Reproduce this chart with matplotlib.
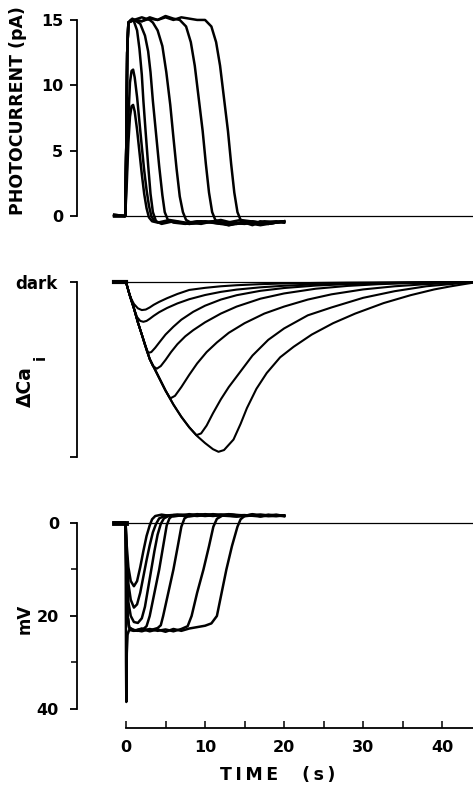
import matplotlib
matplotlib.use("Agg")
import matplotlib.pyplot as plt
from matplotlib.ticker import FixedLocator

plt.rcParams['font.family'] = ['DejaVu Sans']
plt.rcParams['font.weight'] = 'bold'

# ---------------- photocurrent (pA) ----------------
pc_t = [
    [-1.5, -0.1, 0.1, 0.3, 0.5, 0.7, 0.9, 1.1, 1.4, 1.7, 2.0, 2.3, 2.6, 2.9, 3.3, 4.0, 5.5, 7.5, 9.5, 12, 14.5, 17, 20],
    [-1.5, -0.1, 0.1, 0.3, 0.5, 0.7, 0.9, 1.1, 1.4, 1.7, 2.0, 2.3, 2.6, 2.9, 3.2, 3.6, 4.3, 6, 8, 10, 12.5, 15, 17.5, 20],
    [-1.5, -0.1, 0.05, 0.15, 0.3, 0.6, 1.0, 1.4, 1.7, 2.0, 2.2, 2.5, 2.8, 3.1, 3.4, 3.8, 4.5, 6, 8, 10, 12, 14, 16, 18, 20],
    [-1.5, -0.1, 0.05, 0.15, 0.3, 0.8, 1.3, 1.8, 2.4, 2.8, 3.1, 3.4, 3.8, 4.2, 4.6, 4.9, 5.3, 6, 7.5, 9, 11, 13, 15, 17, 19, 20],
    [-1.5, -0.1, 0.05, 0.15, 0.3, 1, 2, 3, 3.4, 4.0, 4.6, 5.1, 5.6, 6.0, 6.4, 6.8, 7.2, 7.6, 8.2, 9.5, 11, 13, 15, 17, 19, 20],
    [-1.5, -0.1, 0.05, 0.15, 0.3, 1, 2, 3, 4, 5, 6, 6.8, 7.6, 8.2, 8.7, 9.2, 9.7, 10.1, 10.5, 10.9, 11.3, 11.9, 13, 15, 17, 19, 20],
    [-1.5, -0.1, 0.05, 0.15, 0.3, 1, 2, 3, 4, 5, 6, 7, 8, 9, 10.0, 10.8, 11.4, 11.9, 12.4, 12.9, 13.3, 13.7, 14.1, 14.5, 15, 16, 17, 18, 19, 20],
]
pc_i = [
    [0.1, 0, 2.5, 5.6, 7.6, 8.4, 8.5, 8.0, 6.6, 4.9, 3.2, 1.7, 0.6, -0.1, -0.4, -0.5, -0.3, -0.5, -0.4, -0.6, -0.3, -0.5, -0.4],
    [0, 0, 3.5, 7.5, 10.2, 11.1, 11.2, 10.6, 9.1, 7.2, 5.3, 3.5, 2.0, 0.8, 0.0, -0.4, -0.5, -0.4, -0.6, -0.4, -0.5, -0.6, -0.4, -0.5],
    [0.1, 0, 6, 12.5, 14.8, 15.0, 14.9, 14.2, 12.8, 10.8, 8.8, 6.3, 3.9, 1.7, 0.3, -0.4, -0.6, -0.4, -0.6, -0.5, -0.3, -0.6, -0.4, -0.6, -0.4],
    [0, 0, 6, 12.5, 14.8, 15.1, 14.9, 14.7, 13.8, 12.6, 11.0, 8.8, 6.3, 3.8, 1.6, 0.3, -0.3, -0.5, -0.6, -0.4, -0.5, -0.7, -0.4, -0.6, -0.5, -0.4],
    [0, 0, 6, 12.5, 14.8, 15.0, 15.2, 15.0, 14.8, 14.2, 13.0, 11.0, 8.5, 6.0, 3.6, 1.5, 0.3, -0.3, -0.5, -0.6, -0.4, -0.6, -0.5, -0.7, -0.5, -0.4],
    [0, 0, 6, 12.5, 14.8, 15.0, 14.9, 15.2, 15.0, 15.3, 15.1, 15.0, 14.5, 13.3, 11.5, 9.0, 6.5, 4.0, 1.8, 0.3, -0.3, -0.5, -0.7, -0.5, -0.6, -0.4, -0.5],
    [0, 0, 6, 12.5, 14.8, 15.0, 14.9, 15.1, 15.0, 15.2, 15.0, 15.2, 15.1, 15.0, 15.0, 14.5, 13.3, 11.5, 9.0, 6.5, 4.0, 1.8, 0.3, -0.3, -0.5, -0.7, -0.4, -0.6, -0.5, -0.4],
]

# ---------------- delta Ca (fraction of full scale, down = more) ----------------
ca_t = [
    [-1.5, 0, 0.3, 0.6, 1.0, 1.5, 2.0, 2.5, 3.0, 3.5, 4.2, 5.2, 6.5, 8, 10, 12, 14, 17, 20, 24, 28, 32, 36, 40, 44],
    [-1.5, 0, 0.3, 0.6, 1.0, 1.4, 1.8, 2.2, 2.6, 3.0, 3.5, 4.2, 5.2, 6.5, 8, 10, 12, 14, 17, 20, 24, 28, 32, 36, 40, 44],
    [-1.5, 0, 0.5, 1.0, 1.5, 2.0, 2.4, 2.8, 3.2, 3.7, 4.3, 5.0, 6.0, 7.0, 8.5, 10, 12, 14, 17, 20, 24, 28, 32, 36, 40, 44],
    [-1.5, 0, 0.5, 1, 1.5, 2, 2.6, 3.0, 3.4, 3.9, 4.4, 5.0, 5.7, 6.5, 7.5, 8.5, 10, 12, 14, 17, 20, 24, 28, 32, 36, 40, 44],
    [-1.5, 0, 0.5, 1, 1.5, 2, 3, 4, 5, 5.6, 6.2, 7.0, 8.0, 9.0, 10.2, 11.5, 13, 15, 17.5, 20, 23, 26, 30, 34, 38, 42, 44],
    [-1.5, 0, 0.5, 1, 1.5, 2, 3, 4, 5, 6, 7, 8, 8.9, 9.5, 10.2, 11, 12, 13, 14.5, 16, 18, 20, 23, 26, 30, 34, 38, 42, 44],
    [-1.5, 0, 0.5, 1, 1.5, 2, 3, 4, 5, 6, 7, 8, 9, 10, 11, 11.7, 12.4, 13.6, 14.5, 15.3, 16.5, 17.8, 19.5, 21.2, 23.5, 26.2, 29, 32.6, 36, 39, 41, 43, 44],
]
ca_d = [
    [0, 0, 0.05, 0.09, 0.125, 0.15, 0.16, 0.157, 0.145, 0.13, 0.113, 0.092, 0.068, 0.045, 0.033, 0.024, 0.018, 0.012, 0.008, 0.005, 0.003, 0.002, 0.001, 0.0005, 0],
    [0, 0, 0.05, 0.09, 0.15, 0.2, 0.222, 0.227, 0.222, 0.21, 0.193, 0.172, 0.148, 0.122, 0.098, 0.074, 0.056, 0.043, 0.03, 0.021, 0.013, 0.008, 0.005, 0.003, 0.001, 0],
    [0, 0, 0.08, 0.15, 0.23, 0.30, 0.36, 0.405, 0.40, 0.375, 0.34, 0.30, 0.255, 0.215, 0.17, 0.135, 0.10, 0.075, 0.05, 0.034, 0.02, 0.012, 0.007, 0.004, 0.002, 0],
    [0, 0, 0.08, 0.15, 0.23, 0.30, 0.39, 0.44, 0.48, 0.495, 0.48, 0.445, 0.40, 0.355, 0.31, 0.275, 0.23, 0.18, 0.14, 0.095, 0.065, 0.038, 0.022, 0.012, 0.006, 0.002, 0],
    [0, 0, 0.08, 0.15, 0.23, 0.30, 0.44, 0.53, 0.62, 0.665, 0.65, 0.60, 0.53, 0.465, 0.40, 0.345, 0.29, 0.235, 0.18, 0.14, 0.1, 0.07, 0.042, 0.024, 0.012, 0.004, 0],
    [0, 0, 0.08, 0.15, 0.23, 0.30, 0.44, 0.53, 0.62, 0.70, 0.77, 0.83, 0.875, 0.865, 0.82, 0.75, 0.67, 0.60, 0.51, 0.42, 0.33, 0.265, 0.19, 0.145, 0.09, 0.052, 0.024, 0.008, 0],
    [0, 0, 0.08, 0.15, 0.23, 0.30, 0.44, 0.53, 0.62, 0.70, 0.77, 0.83, 0.88, 0.92, 0.955, 0.97, 0.96, 0.9, 0.81, 0.72, 0.61, 0.52, 0.43, 0.37, 0.3, 0.235, 0.18, 0.12, 0.075, 0.042, 0.025, 0.01, 0.003],
]

# ---------------- membrane voltage (mV hyperpolarisation) ----------------
mv_t = [
    [-1.5, -0.05, 0.1, 0.3, 0.6, 1.0, 1.4, 1.8, 2.2, 2.6, 3.0, 3.3, 3.7, 4.5, 6, 8, 10, 12, 14, 16, 18, 20],
    [-1.5, -0.05, 0.1, 0.3, 0.6, 1.0, 1.4, 1.8, 2.2, 2.6, 3.0, 3.4, 3.8, 4.2, 5, 6.5, 8, 10, 12, 14, 16, 18, 20],
    [-1.5, -0.05, 0.1, 0.3, 0.6, 1.0, 1.5, 2.0, 2.4, 2.8, 3.2, 3.6, 4.0, 4.4, 4.8, 5.5, 7, 9, 11, 13, 15, 17, 19, 20],
    [-1.5, -0.05, 0.05, 0.2, 0.4, 0.8, 1.5, 2.2, 2.6, 3.0, 3.6, 4.2, 4.7, 5.15, 5.5, 6, 7.5, 9, 11, 13, 15, 17, 19, 20],
    [-1.5, -0.05, 0.05, 0.2, 0.4, 1, 2, 3, 4, 4.4, 4.7, 5.35, 6.0, 6.55, 7.0, 7.4, 8, 9.5, 11, 13, 15, 17, 19, 20],
    [-1.5, -0.05, 0.05, 0.2, 0.4, 1, 2, 3, 4, 5, 6, 7, 7.8, 8.3, 9.0, 9.8, 10.5, 11.05, 11.5, 12.2, 13, 15, 17, 19, 20],
    [-1.5, -0.05, 0.0, 0.04, 0.1, 0.2, 0.4, 1, 2, 3, 4, 5, 6, 7, 8, 9, 10, 10.8, 11.5, 12.1, 12.7, 13.4, 14.1, 14.5, 15, 16, 17, 18, 19, 20],
]
mv_v = [
    [0, 0, 5, 9.5, 12.5, 13.6, 12.5, 9.5, 6, 2.8, 0.5, -0.8, -1.5, -1.8, -1.4, -1.9, -1.5, -1.8, -1.4, -1.7, -1.5, -1.6],
    [0, 0, 7, 13, 16.5, 18.2, 17.5, 15, 11.5, 8, 4.8, 2, 0.2, -1.0, -1.6, -1.8, -1.4, -1.9, -1.6, -1.4, -1.8, -1.5, -1.6],
    [0, 0, 10, 17, 20, 21.3, 21.5, 20.5, 18, 14, 10, 6, 2.5, 0.2, -1.0, -1.6, -1.8, -1.5, -1.9, -1.6, -1.7, -1.4, -1.8, -1.5],
    [0, 0, 12, 20, 22.5, 23, 23.2, 22.8, 22.2, 20, 15, 10, 5, 0.5, -1.0, -1.7, -1.5, -1.9, -1.6, -1.8, -1.5, -1.7, -1.6, -1.5],
    [0, 0, 12, 20, 22.5, 23.2, 22.7, 23.1, 22.6, 22, 20, 15, 10, 5, 0.8, -1.0, -1.6, -1.8, -1.5, -1.9, -1.6, -1.8, -1.5, -1.6],
    [0, 0, 12, 20, 22.5, 23, 23.3, 22.8, 23.2, 22.9, 23.3, 22.8, 22.2, 20, 15, 10, 5, 0.8, -0.9, -1.6, -1.8, -1.5, -1.7, -1.5, -1.6],
    [0, 0, 30, 38.5, 28, 24, 23, 23.2, 22.8, 23.3, 22.9, 23.4, 22.8, 23.2, 22.7, 22.4, 22.1, 21.6, 20, 15, 10, 5, 0.8, -0.8, -1.5, -1.9, -1.4, -1.8, -1.6, -1.5],
]

XLIM = (-6.2, 43.9)
W, H = 473, 790
fig = plt.figure(figsize=(W / 100, H / 100), dpi=100)


def panel(top, bottom):
    ax = fig.add_axes([77 / W, 1 - bottom / H, (W - 77) / W, (bottom - top) / H])
    ax.set_xlim(*XLIM)
    for s in ['top', 'right', 'bottom']:
        ax.spines[s].set_visible(False)
    ax.spines['left'].set_linewidth(1.3)
    ax.set_xticks([])
    ax.tick_params(axis='y', direction='out', length=5, width=1.3, labelsize=11.5, pad=5)
    return ax


x_start = (-1.5 - XLIM[0]) / (XLIM[1] - XLIM[0])

# top panel
ax1 = panel(10, 232)
ax1.set_ylim(-1.22, 15.76)
ax1.axhline(0, xmin=x_start, color='black', lw=0.9)
for t, i in zip(pc_t, pc_i):
    ax1.plot(t, i, color='black', lw=1.8)
ax1.spines['left'].set_bounds(0, 15)
ax1.set_yticks([0, 5, 10, 15])

# middle panel
ax2 = panel(270, 470)
ax2.set_ylim(-1.074, 0.069)
ax2.axhline(0, xmin=x_start, color='black', lw=0.9)
for t, d in zip(ca_t, ca_d):
    ax2.plot(t, [-v for v in d], color='black', lw=1.5)
ax2.plot([-1.5, 0], [0, 0], color='black', lw=3)
ax2.spines['left'].set_bounds(-1, 0)
ax2.set_yticks([-1, 0])
ax2.set_yticklabels(['', 'dark'])
ax2.tick_params(axis='y', pad=9, labelsize=12)

# bottom panel
ax3 = panel(505, 728)
ax3.set_ylim(44.1, -3.87)
ax3.axhline(0, xmin=x_start, color='black', lw=0.9)
for t, v in zip(mv_t, mv_v):
    ax3.plot(t, v, color='black', lw=1.8)
ax3.plot([-1.5, 0], [0, 0], color='black', lw=3.5)
ax3.spines['left'].set_bounds(0, 40)
ax3.set_yticks([0, 20, 40])
ax3.yaxis.set_minor_locator(FixedLocator([10, 30]))
ax3.tick_params(axis='y', which='major', pad=8)
ax3.tick_params(axis='y', which='minor', direction='out', length=4, width=1.1)

ax3.spines['bottom'].set_visible(True)
ax3.spines['bottom'].set_linewidth(1.3)
ax3.spines['bottom'].set_bounds(0, XLIM[1])
ax3.set_xticks([0, 10, 20, 30, 40])
ax3.xaxis.set_minor_locator(FixedLocator([5, 15, 25, 35]))
ax3.tick_params(axis='x', which='both', direction='in', length=5, width=1.1, labelsize=11.5, pad=9)

# labels
fig.text(18 / W, 1 - 111 / H, 'PHOTOCURRENT (pA)', rotation=90, ha='center', va='center',
         fontsize=12.5, fontweight='bold')
fig.text(25 / W, 1 - 387 / H, 'ΔCa', rotation=90, ha='center', va='center',
         fontsize=13.5, fontweight='bold')
fig.text(40 / W, 1 - 357 / H, 'i', rotation=90, ha='center', va='center',
         fontsize=11, fontweight='bold')
fig.text(25 / W, 1 - 619 / H, 'mV', rotation=90, ha='center', va='center',
         fontsize=12, fontweight='bold')
fig.text(278 / W, 1 - 775 / H, 'T\u2009I\u2009M\u2009E    (\u2009s\u2009)', ha='center', va='center',
         fontsize=12.5, fontweight='bold')

fig.savefig('out.png', dpi=100)
